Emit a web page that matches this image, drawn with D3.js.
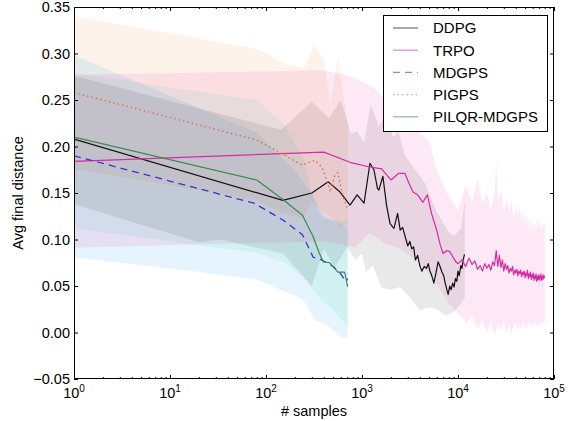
<!DOCTYPE html>
<html><head><meta charset="utf-8">
<script src="https://cdn.jsdelivr.net/npm/d3@7"></script>
<style>
body{margin:0;background:#fff}
svg{display:block}
text{font-family:"Liberation Sans",Arial,sans-serif;fill:#000}
</style>
</head><body>
<svg id="chart" width="570" height="421"></svg>
<script>
// ---------------- DATA ----------------
const seriesNames = ["DDPG","TRPO","MDGPS","PIGPS","PILQR-MDGPS"];
const xTickValues = [1,10,100,1000,10000,100000];
const xTickExponents = ["0","1","2","3","4","5"];
const yTickValues = [-0.05,0,0.05,0.10,0.15,0.20,0.25,0.30,0.35];
const yTickLabels = ["\u22120.05","0.00","0.05","0.10","0.15","0.20","0.25","0.30","0.35"];
const xLabel = "# samples";
const yLabel = "Avg final distance";

const ddpgLine = [[1,0.208],[150,0.142],[300,0.150],[445,0.162],[590,0.151],[750,0.137],[890,0.148],[1050,0.139],[1210,0.182],[1330,0.175],[1450,0.155],[1500,0.153],[1650,0.168],[1800,0.137],[1960,0.117],[2150,0.112],[2350,0.128],[2500,0.110],[2650,0.113],[2800,0.104],[3000,0.093],[3150,0.098],[3300,0.090],[3450,0.092],[3600,0.078],[3800,0.083],[4000,0.072],[4200,0.066],[4450,0.071],[4700,0.069],[4900,0.074],[5100,0.066],[5300,0.062],[5600,0.053],[5900,0.064],[6200,0.076],[6500,0.071],[6800,0.065],[7100,0.061],[7400,0.052],[7700,0.045],[7900,0.041],[8200,0.050],[8500,0.046],[8800,0.053],[9100,0.049],[9400,0.058],[9700,0.055],[10000,0.066],[10300,0.061],[10700,0.072],[11000,0.069],[11300,0.078],[11700,0.084]];

const trpoLine = [[1,0.184],[400,0.194],[750,0.183],[1200,0.178],[1600,0.176],[2000,0.164],[2400,0.171],[2800,0.171],[3100,0.160],[3400,0.151],[3800,0.148],[4300,0.140],[4800,0.148],[5300,0.128],[6000,0.110],[6500,0.095],[7000,0.085],[7600,0.088],[8200,0.087],[9000,0.080],[9500,0.076],
[10000,0.074],[11000,0.078],[12000,0.071],[13000,0.080],[14000,0.073],[15000,0.077],[16000,0.068],[17000,0.072],[18000,0.066],[19000,0.074],[20000,0.069],[21000,0.073],[22000,0.067],[23000,0.076],[24000,0.072],[25000,0.088],[26000,0.071],[27000,0.083],[28000,0.070],[29000,0.078],[30000,0.066],[31000,0.074],[32000,0.068],[33000,0.072],[34000,0.064],[35000,0.069],[36000,0.066],[37000,0.071],[38000,0.062],[39000,0.067],[40000,0.064],[41000,0.068],[42000,0.061],[43000,0.066],[44000,0.063],[45000,0.067],[46000,0.060],[47000,0.065],[48000,0.062],[49000,0.066],[50000,0.059],[51000,0.064],[52000,0.061],[53000,0.067],[54000,0.058],[55000,0.063],[56000,0.060],[57000,0.065],[58000,0.057],[59000,0.062],[60000,0.059],[61000,0.064],[62000,0.056],[63000,0.061],[64000,0.058],[65000,0.063],[66000,0.055],[67000,0.060],[68000,0.057],[69000,0.062],[70000,0.056],[71000,0.061],[72000,0.058],[73000,0.063],[74000,0.056],[75000,0.060],[76000,0.057],[77000,0.062],[78000,0.058],[79000,0.061],[80000,0.059]];

const mdgpsLine = [[1,0.190],[75,0.139],[150,0.121],[240,0.105],[310,0.081],[380,0.078],[500,0.071],[590,0.064],[680,0.055],[710,0.058]];
const pigpsLine = [[1,0.258],[80,0.207],[143,0.193],[237,0.180],[300,0.184],[325,0.185],[380,0.178],[440,0.161],[464,0.151],[490,0.160],[523,0.169],[560,0.172],[590,0.161],[635,0.146],[710,0.132]];
const pilqrLine = [[1,0.210],[80,0.164],[150,0.143],[240,0.126],[310,0.103],[360,0.085],[395,0.076],[460,0.075],[560,0.065],[660,0.065],[710,0.049]];

// shaded bands: upper and lower edges
const pigpsUpper = [[1,0.340],[80,0.305],[160,0.289],[250,0.284],[316,0.310],[400,0.293],[470,0.245],[560,0.296],[650,0.250],[710,0.225]];
const pigpsLower = [[1,0.176],[80,0.142],[150,0.128],[240,0.122],[300,0.140],[400,0.130],[500,0.122],[600,0.112],[710,0.118]];
const mdgpsUpper = [[1,0.298],[80,0.215],[195,0.175],[300,0.150],[400,0.125],[710,0.112]];
const mdgpsLower = [[1,0.081],[20,0.065],[80,0.057],[226,0.037],[260,0.032],[320,0.013],[410,0.010],[550,-0.001],[635,-0.006],[710,-0.005]];
const pilqrUpper = [[1,0.279],[80,0.250],[150,0.225],[240,0.190],[300,0.150],[350,0.128],[400,0.122],[710,0.120]];
const pilqrLower = [[1,0.112],[20,0.094],[80,0.086],[150,0.076],[240,0.060],[300,0.048],[400,0.032],[500,0.025],[600,0.015],[710,0.006]];
const ddpgUpper = [[1,0.276],[143,0.218],[300,0.248],[450,0.230],[600,0.250],[770,0.214],[900,0.216],[1050,0.204],[1230,0.245],[1500,0.222],[1800,0.235],[2100,0.210],[2400,0.216],[2800,0.190],[3300,0.180],[4000,0.168],[4600,0.160],[5200,0.145],[6000,0.130],[7000,0.118],[8000,0.108],[9000,0.104],[10000,0.108],[10800,0.112],[11300,0.128],[11800,0.142]];
const ddpgLower = [[1,0.138],[20,0.097],[33,0.100],[150,0.085],[300,0.050],[400,0.090],[520,0.070],[700,0.092],[850,0.078],[1000,0.085],[1100,0.065],[1300,0.072],[1600,0.048],[2000,0.046],[2500,0.049],[3000,0.040],[3600,0.030],[4000,0.024],[5000,0.027],[6000,0.025],[7500,0.018],[9000,0.022],[10500,0.030],[11800,0.038]];
const trpoUpper = [[1,0.277],[400,0.282],[800,0.275],[1330,0.263],[2000,0.245],[3000,0.228],[4000,0.215],[5100,0.204],[5800,0.178],[7700,0.150],[9500,0.135],[10000,0.130],[12000,0.158],[14000,0.140],[16000,0.165],[18000,0.138],[20000,0.150],[22000,0.132],[24000,0.148],[25000,0.185],[26000,0.140],[28000,0.155],[30000,0.128],[32000,0.145],[34000,0.130],[36000,0.142],[38000,0.120],[40000,0.138],[42000,0.125],[44000,0.135],[46000,0.118],[48000,0.132],[50000,0.115],[52000,0.128],[54000,0.112],[56000,0.125],[58000,0.110],[60000,0.122],[62000,0.108],[64000,0.120],[66000,0.110],[68000,0.125],[70000,0.112],[72000,0.120],[74000,0.108],[76000,0.118],[78000,0.112],[80000,0.122]];
const trpoLower = [[1,0.091],[20,0.095],[400,0.098],[850,0.092],[1200,0.107],[1700,0.096],[2500,0.090],[4000,0.075],[5700,0.056],[7900,0.032],[10000,0.020],[11700,0.014],[12000,0.010],[14000,0.018],[16000,0.004],[18000,0.012],[20000,0.000],[22000,0.010],[24000,-0.002],[26000,0.008],[28000,0.002],[30000,0.012],[32000,0.000],[34000,0.008],[36000,-0.002],[38000,0.006],[40000,0.010],[42000,0.002],[44000,0.008],[46000,0.004],[48000,0.012],[50000,0.003],[52000,0.009],[54000,0.006],[56000,0.012],[58000,0.004],[60000,0.010],[62000,0.005],[64000,0.012],[66000,0.006],[68000,0.010],[70000,0.004],[72000,0.012],[74000,0.008],[76000,0.014],[78000,0.006],[80000,0.012]];

// ---------------- CHART ----------------
const svg = d3.select("#chart");
const pL = 74, pR = 554, pT = 7, pB = 379;
const x = d3.scaleLog().domain([1,1e5]).range([pL,pR]);
const y = d3.scaleLinear().domain([-0.05,0.35]).range([pB,pT]);

svg.append("defs").append("clipPath").attr("id","clip")
  .append("rect").attr("x",pL).attr("y",pT).attr("width",pR-pL).attr("height",pB-pT);

const plot = svg.append("g").attr("clip-path","url(#clip)");
const line = d3.line().x(d=>x(d[0])).y(d=>y(d[1]));

const bands = [
  {up:pigpsUpper, lo:pigpsLower, fill:"#f5a060", op:0.13},
  {up:mdgpsUpper, lo:mdgpsLower, fill:"#45b0f0", op:0.14},
  {up:pilqrUpper, lo:pilqrLower, fill:"#40d8a8", op:0.11},
  {up:ddpgUpper, lo:ddpgLower, fill:"#000000", op:0.085},
  {up:trpoUpper, lo:trpoLower, fill:"#e0279a", op:0.10}
];
bands.forEach(b=>{
  const poly = b.up.concat(b.lo.slice().reverse());
  plot.append("path").attr("d", line(poly)+"Z")
    .attr("fill", b.fill).attr("fill-opacity", b.op).attr("stroke","none");
});

const styles = [
  {data:ddpgLine, color:"#111111", dash:null, w:1.2},
  {data:trpoLine, color:"#d72ca2", dash:null, w:1.2},
  {data:mdgpsLine, color:"#3636d0", dash:"7,5", w:1.3},
  {data:pigpsLine, color:"#e0704a", dash:"1.5,3", w:1.4},
  {data:pilqrLine, color:"#3c8a50", dash:null, w:1.2}
];
styles.forEach(s=>{
  const p = plot.append("path").attr("d", line(s.data)).attr("fill","none")
    .attr("stroke", s.color).attr("stroke-width", s.w).attr("stroke-linejoin","round");
  if (s.dash) p.attr("stroke-dasharray", s.dash);
});

// axes (inward ticks on all sides)
const minorX = [];
for (let k=0;k<5;k++) for (let m=2;m<=9;m++) minorX.push(m*Math.pow(10,k));
function styleAxis(g){ g.select(".domain").remove(); g.selectAll("line").attr("stroke","#000"); g.selectAll("text").remove(); }
svg.append("g").attr("transform",`translate(0,${pB})`).call(d3.axisBottom(x).tickValues(xTickValues).tickSize(-4).tickSizeOuter(0)).call(styleAxis);
svg.append("g").attr("transform",`translate(0,${pB})`).call(d3.axisBottom(x).tickValues(minorX).tickSize(-2).tickSizeOuter(0)).call(styleAxis);
svg.append("g").attr("transform",`translate(0,${pT})`).call(d3.axisTop(x).tickValues(xTickValues).tickSize(-4).tickSizeOuter(0)).call(styleAxis);
svg.append("g").attr("transform",`translate(0,${pT})`).call(d3.axisTop(x).tickValues(minorX).tickSize(-2).tickSizeOuter(0)).call(styleAxis);
svg.append("g").attr("transform",`translate(${pL},0)`).call(d3.axisLeft(y).tickValues(yTickValues).tickSize(-4).tickSizeOuter(0)).call(styleAxis);
svg.append("g").attr("transform",`translate(${pR},0)`).call(d3.axisRight(y).tickValues(yTickValues).tickSize(-4).tickSizeOuter(0)).call(styleAxis);

svg.append("rect").attr("x",pL+0.5).attr("y",pT+0.5).attr("width",pR-pL-1).attr("height",pB-pT-1)
  .attr("fill","none").attr("stroke","#000").attr("stroke-width",1);

// tick labels
yTickValues.forEach((v,i)=>{
  svg.append("text").attr("x",pL-4).attr("y",y(v)).attr("dy","0.35em")
    .attr("text-anchor","end").style("font-size","14.5px").text(yTickLabels[i]);
});
xTickValues.forEach((v,i)=>{
  const t = svg.append("text").attr("x",x(v)).attr("y",398).attr("text-anchor","middle").style("font-size","14.5px");
  t.append("tspan").text("10");
  t.append("tspan").attr("dy",-6).style("font-size","10px").text(xTickExponents[i]);
});
svg.append("text").attr("x",(pL+pR)/2).attr("y",416).attr("text-anchor","middle").style("font-size","14.5px").text(xLabel);
svg.append("text").attr("transform",`translate(23,${(pT+pB)/2}) rotate(-90)`).attr("text-anchor","middle").style("font-size","14.5px").text(yLabel);

// legend
const lg = svg.append("g");
lg.append("rect").attr("x",383.5).attr("y",15.5).attr("width",164).attr("height",116).attr("fill","#fff").attr("stroke","#000").attr("stroke-width",1);
styles.forEach((s,i)=>{
  const yy = 28 + i*22.2;
  const l = lg.append("line").attr("x1",393).attr("x2",418).attr("y1",yy).attr("y2",yy)
    .attr("stroke",s.color).attr("stroke-width",s.w).attr("stroke-opacity",0.6);
  if (s.dash) l.attr("stroke-dasharray", s.dash);
  lg.append("text").attr("x",433).attr("y",yy).attr("dy","0.36em").style("font-size","15px").text(seriesNames[i]);
});
</script>
</body></html>
